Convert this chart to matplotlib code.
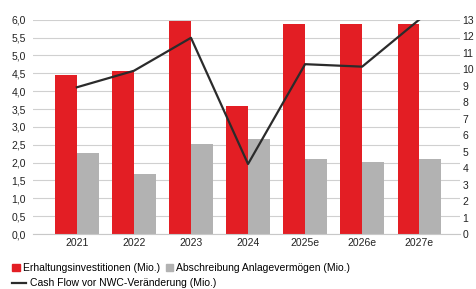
import matplotlib.pyplot as plt
import numpy as np
from matplotlib.patches import Patch
from matplotlib.lines import Line2D

plt.rcParams['font.family'] = ['Liberation Sans', 'DejaVu Sans']

years = ['2021', '2022', '2023', '2024', '2025e', '2026e', '2027e']
erhaltung = [4.45, 4.56, 5.96, 3.58, 5.87, 5.87, 5.87]
abschreibung = [2.26, 1.67, 2.52, 2.67, 2.11, 2.02, 2.11]
cashflow = [8.9, 9.9, 11.9, 4.25, 10.3, 10.15, 13.0]

RED = '#e31e24'
GREY = '#b2b2b2'
LINE = '#2b2b2b'

fig = plt.figure(figsize=(4.77, 2.89), dpi=100)
ax = fig.add_axes([0.069, 0.19, 0.896, 0.742])
ax2 = ax.twinx()

x = np.arange(len(years))
w = 0.38
ax.bar(x - w / 2, erhaltung, w, color=RED, zorder=2)
ax.bar(x + w / 2, abschreibung, w, color=GREY, zorder=2)
ax2.plot(x, cashflow, color=LINE, lw=1.6, zorder=3)

ax.set_xlim(-0.77, 6.72)
ax.set_ylim(0, 6)
ax2.set_ylim(0, 13)
ax.set_yticks(np.arange(0, 6.01, 0.5))
ax.set_yticklabels([f'{v:.1f}'.replace('.', ',') for v in np.arange(0, 6.01, 0.5)])
ax2.set_yticks(range(0, 14))
ax.set_xticks(x)
ax.set_xticklabels(years)

ax.grid(axis='y', color='#d0d0d0', lw=0.8, zorder=0)
ax.set_axisbelow(True)
for a in (ax, ax2):
    for s in a.spines.values():
        s.set_visible(False)
    a.tick_params(length=0, labelsize=7.5, colors='#222222')
ax.spines['bottom'].set_visible(True)
ax.spines['bottom'].set_color('#c8c8c8')
ax.tick_params(axis='y', pad=5)
ax.tick_params(axis='x', pad=3)
ax2.tick_params(axis='y', pad=1.5)

h1 = [Patch(color=RED), Patch(color=GREY)]
fig.legend(h1, ['Erhaltungsinvestitionen (Mio.)', 'Abschreibung Anlagevermögen (Mio.)'],
           loc='center left', bbox_to_anchor=(0.017, 0.073), ncol=2, frameon=False,
           fontsize=7.5, handlelength=0.7, handleheight=0.7, handletextpad=0.3,
           columnspacing=0.6, borderaxespad=0)
fig.legend([Line2D([], [], color=LINE, lw=1.6)], ['Cash Flow vor NWC-Veränderung (Mio.)'],
           loc='center left', bbox_to_anchor=(0.017, 0.02), frameon=False,
           fontsize=7.5, handlelength=1.3, handletextpad=0.4, borderaxespad=0)

fig.savefig('out.png', dpi=100)
